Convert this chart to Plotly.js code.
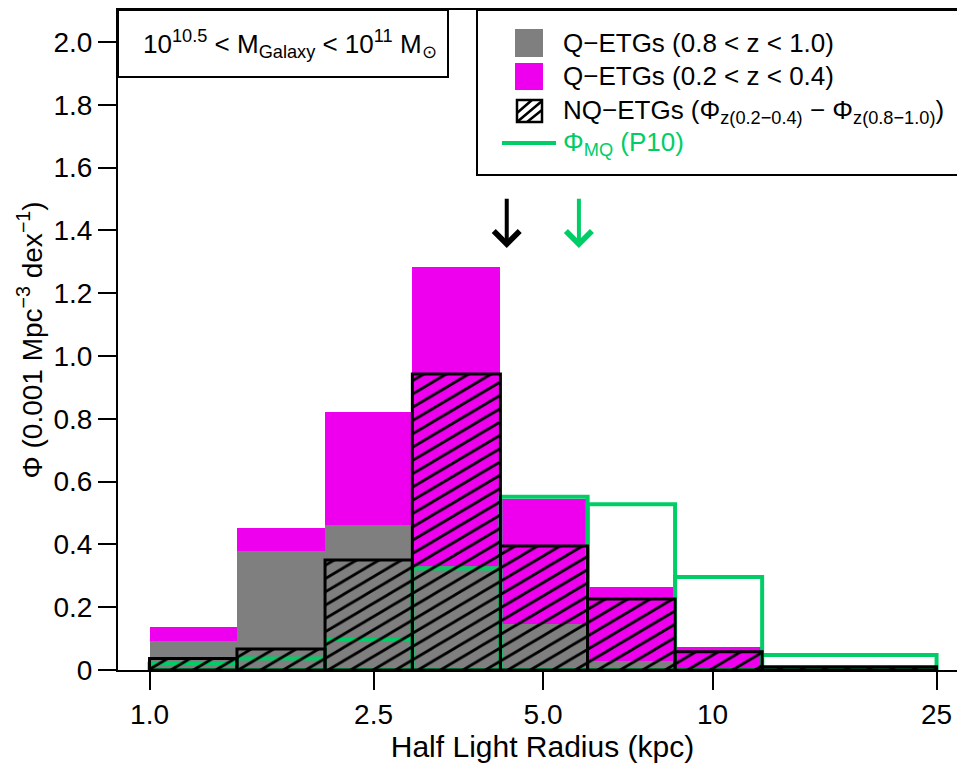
<!DOCTYPE html>
<html><head><meta charset="utf-8">
<script src="https://cdn.plot.ly/plotly-3.0.1.min.js"></script>
<style>html,body{margin:0;padding:0;overflow:hidden;background:#fff}#chart{width:967px;height:763px}</style>
</head><body><div id="chart"></div>
<script>
// ---- data ----
const binEdges   = [1.0, 1.43, 2.05, 2.93, 4.2, 6.0, 8.58, 12.25, 25.0];   // half light radius, kpc
const phiQLowZ   = [0.136, 0.453, 0.821, 1.283, 0.544, 0.265, 0.072, 0.010]; // Q-ETGs 0.2<z<0.4
const phiQHighZ  = [0.093, 0.379, 0.461, 0.330, 0.145, 0.030, 0.005, 0.000]; // Q-ETGs 0.8<z<1.0
const phiNQ      = [0.037, 0.067, 0.350, 0.943, 0.395, 0.226, 0.058, 0.010]; // NQ-ETGs difference
const phiMQ      = [0.020, 0.037, 0.096, 0.323, 0.552, 0.528, 0.296, 0.048]; // Phi_MQ (P10)
const arrowRadii = [4.31, 5.79];
const arrowColors = ['#000000', '#00CD66'];
const arrowTipPhi = 1.344, arrowTailPhi = 1.506;
const xTickVals = [1.0, 2.5, 5.0, 10, 25];
const xTickText = ['1.0', '2.5', '5.0', '10', '25'];
const yTickVals = [0, 0.2, 0.4, 0.6, 0.8, 1.0, 1.2, 1.4, 1.6, 1.8, 2.0];
const yTickText = ['0', '0.2', '0.4', '0.6', '0.8', '1.0', '1.2', '1.4', '1.6', '1.8', '2.0'];
const legendLabels = [
  'Q\u2212ETGs (0.8 &lt; z &lt; 1.0)',
  'Q\u2212ETGs (0.2 &lt; z &lt; 0.4)',
  'NQ\u2212ETGs (\u03A6<sub>z(0.2\u22120.4)</sub> \u2212 \u03A6<sub>z(0.8\u22121.0)</sub>)',
  '\u03A6<sub>MQ</sub> (P10)'
];

// ---- styling ----
const MAG = '#EE00EE', GRAY = '#7F7F7F', GREEN = '#00CD66';
const FONT = 'Liberation Sans, Arial, Helvetica, sans-serif';
const W = 967, H = 763, ML = 118, MT = 10, MB = 93;
const PW = W - ML, PH = H - MT - MB;
const fx = p => (p - ML) / PW;           // pixel -> paper x
const fy = p => (H - MB - p) / PH;        // pixel -> paper y

const logE = binEdges.map(Math.log10);
const centers = logE.slice(0, -1).map((e, i) => (e + logE[i + 1]) / 2);
const widths = logE.slice(0, -1).map((e, i) => logE[i + 1] - e);

function barTrace(y, marker) {
  return {type: 'bar', x: centers, y: y, width: widths, marker: marker,
          hoverinfo: 'skip', showlegend: false};
}
const data = [
  barTrace(phiQLowZ, {color: MAG, line: {width: 0}}),
  barTrace(phiQHighZ, {color: GRAY, line: {width: 0}}),
  barTrace(phiMQ, {color: 'rgba(0,0,0,0)', line: {color: GREEN, width: 4}}),
  barTrace(phiNQ, {color: 'rgba(0,0,0,0)', line: {color: '#000', width: 3},
    pattern: {shape: '/', fgcolor: '#000', bgcolor: 'rgba(0,0,0,0)', size: 9.4, solidity: 0.24, fillmode: 'replace'}})
];

const annotations = [];
arrowRadii.forEach((r, i) => annotations.push({
  xref: 'x', yref: 'y', axref: 'x', ayref: 'y',
  x: Math.log10(r), y: arrowTipPhi, ax: Math.log10(r), ay: arrowTailPhi,
  text: '', showarrow: true, arrowhead: 4, arrowsize: 1.25, arrowwidth: 4,
  arrowcolor: arrowColors[i], standoff: 0
}));
// mass-range label
annotations.push({xref: 'paper', yref: 'paper', x: fx(290), y: fy(44), xanchor: 'center', yanchor: 'middle',
  text: '10<sup>10.5</sup> &lt; M<sub>Galaxy</sub> &lt; 10<sup>11</sup> M<sub>\u2299</sub>',
  showarrow: false, font: {family: FONT, size: 26, color: '#000'}});
// legend labels
const legY = [43, 76, 111, 143];
legendLabels.forEach((t, i) => annotations.push({xref: 'paper', yref: 'paper', x: fx(561), y: fy(legY[i]),
  xanchor: 'left', yanchor: 'middle', text: t, showarrow: false,
  font: {family: FONT, size: 26, color: i === 3 ? GREEN : '#000'}}));

const shapes = [
  {type: 'rect', xref: 'paper', yref: 'paper', x0: 0, x1: fx(448), y0: fy(77), y1: 1,
   line: {color: '#000', width: 2}, fillcolor: 'rgba(0,0,0,0)'},
  {type: 'rect', xref: 'paper', yref: 'paper', x0: fx(477), x1: 1.02, y0: fy(175), y1: 1,
   line: {color: '#000', width: 2}, fillcolor: 'rgba(0,0,0,0)'},
  {type: 'rect', xref: 'paper', yref: 'paper', x0: fx(515), x1: fx(543), y0: fy(57), y1: fy(29),
   line: {width: 0}, fillcolor: GRAY},
  {type: 'rect', xref: 'paper', yref: 'paper', x0: fx(515), x1: fx(543), y0: fy(90), y1: fy(63),
   line: {width: 0}, fillcolor: MAG},
  {type: 'rect', xref: 'paper', yref: 'paper', x0: fx(517), x1: fx(542), y0: fy(122), y1: fy(100),
   line: {color: '#000', width: 2.5}, fillcolor: 'rgba(0,0,0,0)'},
  {type: 'path', xref: 'paper', yref: 'paper', line: {color: '#000', width: 2.5},
   path: `M${fx(517)},${fy(113)}L${fx(532)},${fy(100)}M${fx(517)},${fy(122)}L${fx(542)},${fy(101)}M${fx(527)},${fy(122)}L${fx(542)},${fy(110)}`},
  {type: 'line', xref: 'paper', yref: 'paper', x0: fx(502), x1: fx(556), y0: fy(143), y1: fy(143),
   line: {color: GREEN, width: 4}}
];

const layout = {
  width: W, height: H, margin: {l: ML, r: 0, t: MT, b: MB},
  paper_bgcolor: '#fff', plot_bgcolor: '#fff',
  barmode: 'overlay', bargap: 0, showlegend: false,
  font: {family: FONT, color: '#000'},
  xaxis: {type: 'linear', range: [-0.056, 1.452], showgrid: false, zeroline: false,
    showline: true, mirror: true, linecolor: '#000', linewidth: 2,
    ticks: 'outside', ticklen: 18, tickwidth: 2, tickcolor: '#000',
    tickvals: xTickVals.map(Math.log10), ticktext: xTickText,
    tickfont: {family: FONT, size: 28, color: '#000'}, automargin: false,
    title: {text: 'Half Light Radius (kpc)', font: {family: FONT, size: 30, color: '#000'}, standoff: 12}},
  yaxis: {range: [0, 2.102], showgrid: false, zeroline: false,
    showline: true, mirror: true, linecolor: '#000', linewidth: 2,
    ticks: 'outside', ticklen: 18, tickwidth: 2, tickcolor: '#000',
    tickvals: yTickVals, ticktext: yTickText,
    tickfont: {family: FONT, size: 28, color: '#000'}, automargin: false,
    title: {text: '\u03A6 (0.001 Mpc<sup>\u22123</sup> dex<sup>\u22121</sup>)', font: {family: FONT, size: 28, color: '#000'}, standoff: 3}},
  shapes: shapes, annotations: annotations
};

Plotly.newPlot('chart', data, layout, {displayModeBar: false, staticPlot: true}).then(gd => {
  gd.querySelectorAll('pattern').forEach(p => p.setAttribute('patternTransform', 'scale(1.69,1)'));
});
</script></body></html>
